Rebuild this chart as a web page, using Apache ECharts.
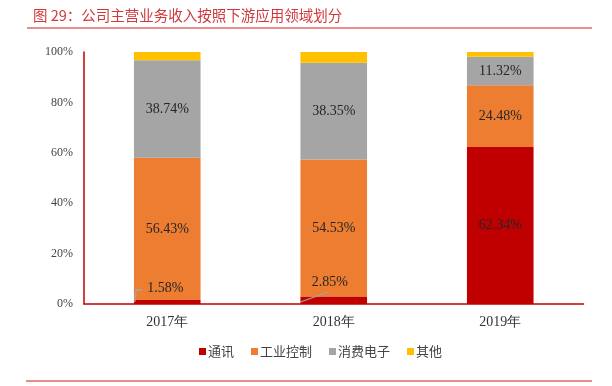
<!DOCTYPE html>
<html><head><meta charset="utf-8">
<script src="https://cdn.jsdelivr.net/npm/echarts@6/dist/echarts.min.js"></script>
<style>html,body{margin:0;padding:0;background:#fff}#c{width:612px;height:386px}</style>
</head><body><div id="c"></div>
<script>
const categories = ['2017年', '2018年', '2019年'];
const tongxun = [1.58, 2.85, 62.34];
const gongye = [56.43, 54.53, 24.48];
const xiaofei = [38.74, 38.35, 11.32];
const qita = [3.25, 4.27, 1.86];
const yTicks = [0, 20, 40, 60, 80, 100];
const seriesNames = ['通讯', '工业控制', '消费电子', '其他'];
const colors = ['#C00000', '#ED7D31', '#A5A5A5', '#FFC000'];
// categories whose 通讯 label sits outside the segment with a leader line
const leaderCats = [0, 1];

const serif = '"Liberation Serif", "DejaVu Serif", serif';
const cjk = '"Noto Sans CJK SC", sans-serif';
const chart = echarts.init(document.getElementById('c'), null, {renderer: 'canvas'});
const lbl = {show: true, position: 'inside', color: '#262626', fontSize: 14, fontFamily: serif,
  formatter: p => p.value.toFixed(2) + '%'};
function mk(name, data, idx, extra) {
  return Object.assign({
    name: name, type: 'bar', stack: 'a', barWidth: '40%', data: data,
    itemStyle: {color: colors[idx]}, label: lbl, emphasis: {disabled: true}
  }, extra || {});
}
chart.setOption({
  animation: false,
  title: {text: '图 29：公司主营业务收入按照下游应用领域划分', left: 28, top: 3,
    textStyle: {color: '#D0393B', fontSize: 14.5, fontWeight: 'normal', fontFamily: cjk}},
  grid: {left: 84, right: 28.5, top: 52, bottom: 82},
  legend: {bottom: 23, left: 194, itemWidth: 7, itemHeight: 7, itemGap: 17, icon: 'rect',
    textStyle: {color: '#444', fontSize: 13, fontFamily: cjk, padding: [0,0,0,-3]}, data: seriesNames},
  xAxis: {type: 'category', data: categories,
    axisLine: {lineStyle: {color: '#C00000', width: 1.5}}, axisTick: {show: false},
    axisLabel: {color: '#333', fontSize: 14, fontFamily: serif, margin: 11}},
  yAxis: {type: 'value', min: 0, max: 100, interval: 20,
    axisLine: {show: true, lineStyle: {color: '#C00000', width: 1.5}}, axisTick: {show: false},
    splitLine: {show: false},
    axisLabel: {color: '#444', fontSize: 12, fontFamily: serif, margin: 11,
      formatter: v => yTicks.includes(v) ? v + '%' : ''}},
  series: [
    mk(seriesNames[0], tongxun, 0, {
      z: 5,
      labelLayout: p => p.dataIndex === 0 ? {dx: -2, dy: -14} : (p.dataIndex === 1 ? {dx: -4, dy: -18} : {})
    }),
    mk(seriesNames[1], gongye, 1),
    mk(seriesNames[2], xiaofei, 2),
    mk(seriesNames[3], qita, 3, {label: {show: false}}),
    {
      type: 'custom', name: 'leader', z: 10, silent: true,
      data: leaderCats.map(i => [i, tongxun[i]]),
      renderItem: (params, api) => {
        const ci = api.value(0);
        const base = api.coord([ci, 0]);
        const bw = api.size([1, 0])[0] * 0.4;
        const x0 = base[0] - bw / 2;
        const y0 = base[1] - 2;
        const pts = ci === 0
          ? [[x0 + 0.8, y0], [x0 + 2.2, y0 - 12], [x0 + 8, y0 - 12]]
          : [[x0, y0], [x0 + 28, y0 - 10]];
        return {type: 'polyline', shape: {points: pts},
          style: {stroke: '#A5A5A5', lineWidth: 1.3, fill: null}};
      }
    }
  ],
  graphic: [
    {type: 'line', shape: {x1: 27, y1: 28, x2: 592, y2: 28}, style: {stroke: '#E06666', lineWidth: 1.5}},
    {type: 'line', shape: {x1: 26, y1: 381, x2: 592, y2: 381}, style: {stroke: '#E06666', lineWidth: 1.5}}
  ]
});
</script></body></html>
